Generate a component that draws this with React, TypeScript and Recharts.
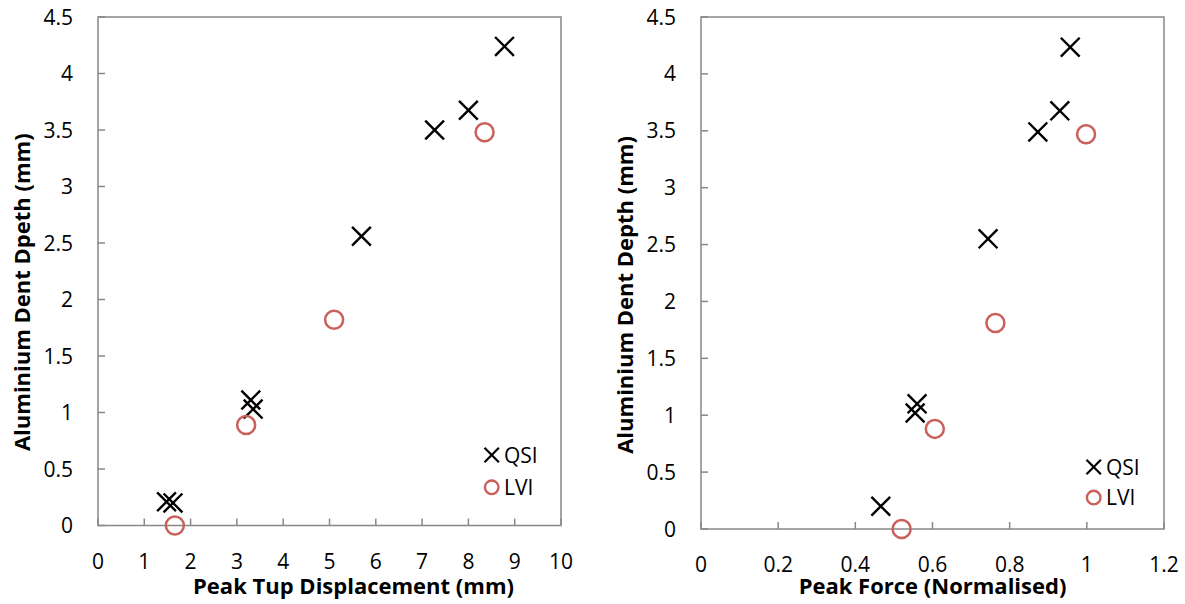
import React from 'react';
import { ScatterChart, Scatter, XAxis, YAxis, ReferenceArea, Legend } from 'recharts';

const FONT = '"Open Sans", Lato, sans-serif';
const AXIS_GRAY = '#888888';
const LVI_RED = '#C9605A';

// tick labels
const dispTicks = [0, 1, 2, 3, 4, 5, 6, 7, 8, 9, 10];
const forceTicks = [0, 0.2, 0.4, 0.6, 0.8, 1, 1.2];
const depthTicks = [0, 0.5, 1, 1.5, 2, 2.5, 3, 3.5, 4, 4.5];
const legendOrder = ['QSI', 'LVI'];

// left chart: peak tup displacement (mm) vs dent depth (mm)
const qsiDisplacement = [1.48, 1.62, 3.3, 3.35, 5.69, 7.27, 8.0, 8.78];
const qsiDepthLeft = [0.21, 0.2, 1.11, 1.03, 2.56, 3.5, 3.675, 4.24];
const lviDisplacement = [1.66, 3.2, 5.1, 8.35];
const lviDepthLeft = [0.0, 0.89, 1.82, 3.48];

// right chart: peak force (normalised) vs dent depth (mm)
const qsiForce = [0.466, 0.56, 0.555, 0.744, 0.873, 0.93, 0.957];
const qsiDepthRight = [0.2, 1.1, 1.02, 2.55, 3.49, 3.675, 4.235];
const lviForce = [0.52, 0.606, 0.763, 0.998];
const lviDepthRight = [0.0, 0.88, 1.81, 3.47];

const toPoints = (xs: number[], ys: number[]) => xs.map((x, i) => ({ x, y: ys[i] }));

const CrossMark = ({ cx, cy, h, w }: { cx: number; cy: number; h: number; w: number }) => (
  <g>
    <line x1={cx - h} y1={cy - h} x2={cx + h} y2={cy + h} stroke="#000" strokeWidth={w} />
    <line x1={cx - h} y1={cy + h} x2={cx + h} y2={cy - h} stroke="#000" strokeWidth={w} />
  </g>
);

const crossShape = (props: any) => <CrossMark cx={props.cx} cy={props.cy} h={9.4} w={2.4} />;
const circleShape = (props: any) => (
  <circle cx={props.cx} cy={props.cy} r={9} fill="none" stroke={LVI_RED} strokeWidth={2.5} />
);

const XTick = (props: any) => {
  const { x, y, payload } = props;
  return (
    <g>
      <line x1={x} y1={y} x2={x} y2={y - 7} stroke={AXIS_GRAY} strokeWidth={1.5} />
      <text x={x} y={y + 43} textAnchor="middle" fontFamily={FONT} fontSize={21} fill="#000">
        {String(payload.value)}
      </text>
    </g>
  );
};

const YTick = (props: any) => {
  const { x, y, payload } = props;
  return (
    <g>
      <line x1={x} y1={y} x2={x + 7} y2={y} stroke={AXIS_GRAY} strokeWidth={1.5} />
      <text x={x - 25} y={y + 7.5} textAnchor="end" fontFamily={FONT} fontSize={21} fill="#000">
        {String(payload.value)}
      </text>
    </g>
  );
};

const xLabel = (text: string, dx: number, dy: number) => (props: any) => {
  const vb = props.viewBox;
  return (
    <text x={vb.x + vb.width / 2 + dx} y={vb.y + dy} textAnchor="middle" fontFamily={FONT}
      fontWeight="bold" fontSize={22} fill="#000">{text}</text>
  );
};

const yLabel = (text: string, bx: number, dy: number) => (props: any) => {
  const vb = props.viewBox;
  const cx = vb.x + bx;
  const cy = vb.y + vb.height / 2 + dy;
  return (
    <text x={cx} y={cy} transform={`rotate(-90 ${cx} ${cy})`} textAnchor="middle" fontFamily={FONT}
      fontWeight="bold" fontSize={22} fill="#000">{text}</text>
  );
};

const legendContent = (rowGap: number) => (props: any) => {
  const items = [...(props.payload || [])].sort(
    (a: any, b: any) => legendOrder.indexOf(a.value) - legendOrder.indexOf(b.value)
  );
  return (
    <svg width={100} height={rowGap + 32} style={{ display: 'block', overflow: 'visible' }}>
      {items.map((it: any, i: number) => {
        const cy = 15 + i * rowGap;
        return (
          <g key={i}>
            {it.value === 'QSI' ? (
              <CrossMark cx={8.7} cy={cy} h={7.2} w={2.2} />
            ) : (
              <circle cx={8.7} cy={cy} r={6.8} fill="none" stroke={LVI_RED} strokeWidth={2.4} />
            )}
            <text x={21} y={cy + 7.5} fontFamily={FONT} fontSize={21} fill="#000">{it.value}</text>
          </g>
        );
      })}
    </svg>
  );
};

export default function App() {
  return (
    <div style={{ position: 'fixed', left: 0, top: 0, width: 1185, height: 604, background: '#fff' }}>
      <div style={{ position: 'absolute', left: 0, top: 0 }}>
        <ScatterChart width={590} height={604} margin={{ top: 17, right: 29, left: 0, bottom: 0 }}>
          <ReferenceArea x1={0} x2={10} y1={0} y2={4.5} fill="none" fillOpacity={0} stroke={AXIS_GRAY} strokeWidth={1.5} />
          <XAxis type="number" dataKey="x" domain={[0, 10]} ticks={dispTicks} interval={0} height={78.5}
            tickSize={0} tickMargin={0} tickLine={false} axisLine={false} tick={XTick}
            label={{ content: xLabel('Peak Tup Displacement (mm)', 24, 68) }} />
          <YAxis type="number" dataKey="y" domain={[0, 4.5]} ticks={depthTicks} interval={0} width={98}
            tickSize={0} tickMargin={0} tickLine={false} axisLine={false} tick={YTick}
            label={{ content: yLabel('Aluminium Dent Dpeth (mm)', 30, 21) }} />
          <Legend verticalAlign="middle" align="center" layout="horizontal" content={legendContent(32.3)}
            itemSorter={null as any}
            wrapperStyle={{ position: 'absolute', left: 483, top: 440, width: 100, height: 70 }} />
          <Scatter name="QSI" data={toPoints(qsiDisplacement, qsiDepthLeft)} shape={crossShape} isAnimationActive={false} />
          <Scatter name="LVI" data={toPoints(lviDisplacement, lviDepthLeft)} shape={circleShape} isAnimationActive={false} />
        </ScatterChart>
      </div>
      <div style={{ position: 'absolute', left: 600, top: 0 }}>
        <ScatterChart width={585} height={604} margin={{ top: 17, right: 21, left: 0, bottom: 0 }}>
          <ReferenceArea x1={0} x2={1.2} y1={0} y2={4.5} fill="none" fillOpacity={0} stroke={AXIS_GRAY} strokeWidth={1.5} />
          <XAxis type="number" dataKey="x" domain={[0, 1.2]} ticks={forceTicks} interval={0} height={75}
            tickSize={0} tickMargin={0} tickLine={false} axisLine={false} tick={XTick}
            label={{ content: xLabel('Peak Force (Normalised)', 0, 64.5) }} />
          <YAxis type="number" dataKey="y" domain={[0, 4.5]} ticks={depthTicks} interval={0} width={101}
            tickSize={0} tickMargin={0} tickLine={false} axisLine={false} tick={YTick}
            label={{ content: yLabel('Aluminium Dent Depth (mm)', 33, 22) }} />
          <Legend verticalAlign="middle" align="center" layout="horizontal" content={legendContent(30.6)}
            itemSorter={null as any}
            wrapperStyle={{ position: 'absolute', left: 484.6, top: 451.7, width: 100, height: 70 }} />
          <Scatter name="QSI" data={toPoints(qsiForce, qsiDepthRight)} shape={crossShape} isAnimationActive={false} />
          <Scatter name="LVI" data={toPoints(lviForce, lviDepthRight)} shape={circleShape} isAnimationActive={false} />
        </ScatterChart>
      </div>
    </div>
  );
}
